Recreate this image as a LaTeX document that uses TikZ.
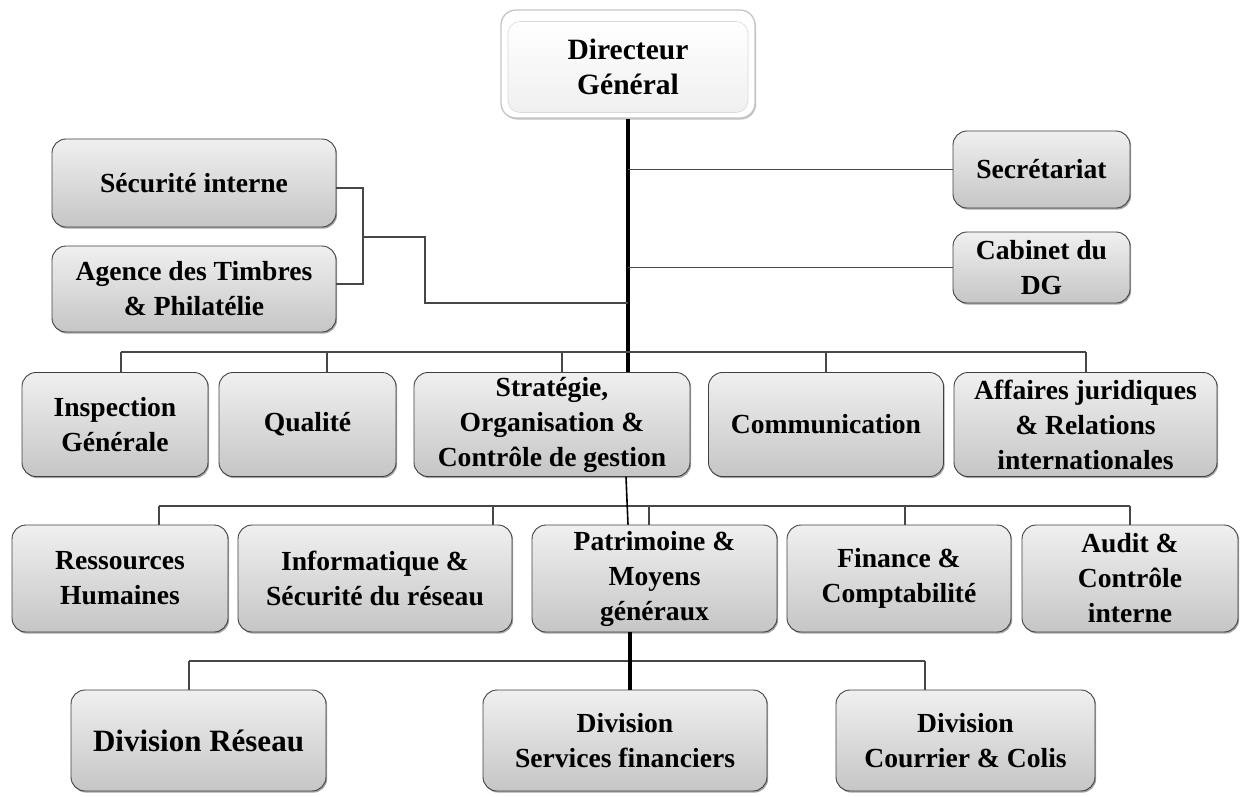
\documentclass[tikz,border=0pt]{standalone}
\usepackage{fontspec}
\setmainfont{Liberation Serif}
\usetikzlibrary{shadows}
\begin{document}
\begin{tikzpicture}[x=1pt,y=-1pt,
  unit/.style={rounded corners=14pt, draw=black!75, line width=0.9pt,
    top color=gray!12, bottom color=gray!45, align=center, inner sep=2pt,
    font=\bfseries\fontsize{27.6}{35}\selectfont,
    drop shadow={shadow xshift=1.2pt, shadow yshift=-1.6pt, opacity=0.35, fill=black}},
  dgframe/.style={rounded corners=15pt, draw=gray!45, line width=1.3pt, fill=white,
    drop shadow={shadow xshift=1pt, shadow yshift=-1.5pt, opacity=0.25, fill=black}},
  dgbox/.style={rounded corners=12pt, draw=gray!30, line width=0.6pt,
    top color=white, bottom color=gray!12, align=center,
    font=\bfseries\fontsize{29.5}{35}\selectfont},
  link/.style={draw=black!72, line width=1.1pt},
  trunk/.style={draw=black, line width=3.2pt},
  slim/.style={draw=black, line width=1.6pt},
]
\useasboundingbox (0,0) rectangle (1245,796);

% Top of the chart
\node[dgframe, minimum width=254pt, minimum height=108pt] (dgf) at (628,64) {};
\node[dgbox, minimum width=240pt, minimum height=91pt] (dg) at (628,67) {Directeur\\Général};

% Staff units beside the trunk
\node[unit, minimum width=284pt, minimum height=88pt] (sec) at (194,183) {Sécurité interne};
\node[unit, minimum width=284pt, minimum height=86pt] (agence) at (194,289) {Agence des Timbres\\\& Philatélie};
\node[unit, minimum width=177pt, minimum height=77pt] (secr) at (1041.5,169.5) {Secrétariat};
\node[unit, minimum width=177pt, minimum height=71pt] (cab) at (1041.5,267.5) {Cabinet du\\DG};

% Second level
\node[unit, minimum width=186pt, minimum height=104pt] (insp) at (115,424.5) {Inspection\\Générale};
\node[unit, minimum width=177pt, minimum height=104pt] (qual) at (307.5,424.5) {Qualité};
\node[unit, minimum width=276pt, minimum height=104pt] (strat) at (552,424.5) {Stratégie,\\Organisation \&\\Contrôle de gestion};
\node[unit, minimum width=235pt, minimum height=104pt] (comm) at (826,424.5) {Communication};
\node[unit, minimum width=263pt, minimum height=104pt] (aff) at (1085.5,424.5) {Affaires juridiques\\\& Relations\\internationales};

% Third level
\node[unit, minimum width=216pt, minimum height=107pt] (rh) at (120,578.5) {Ressources\\Humaines};
\node[unit, minimum width=274pt, minimum height=107pt] (info) at (375,578.5) {Informatique \&\\Sécurité du réseau};
\node[unit, minimum width=245pt, minimum height=107pt] (patr) at (654.5,578.5) {Patrimoine \&\\Moyens\\généraux};
\node[unit, minimum width=224pt, minimum height=107pt] (fin) at (899,578.5) {Finance \&\\Comptabilité};
\node[unit, minimum width=216pt, minimum height=107pt] (audit) at (1130,578.5) {Audit \&\\Contrôle\\interne};

% Operating divisions
\node[unit, minimum width=255pt, minimum height=101pt, font=\bfseries\fontsize{31}{38}\selectfont] (dr) at (198.5,740.5) {Division Réseau};
\node[unit, minimum width=284pt, minimum height=101pt] (sf) at (625,740.5) {Division\\Services financiers};
\node[unit, minimum width=259pt, minimum height=101pt] (cc) at (965.5,740.5) {Division\\Courrier \& Colis};

% Main trunk and staff links
\draw[trunk] (dgf.south) -- (dgf.south |- strat.north);
\draw[link] (dgf.south |- secr.west) -- (secr.west);
\draw[link] (dgf.south |- cab.west) -- (cab.west);

\coordinate (lbtop) at (363,188);
\coordinate (lbbot) at (363,284);
\coordinate (lbmid) at (363,237);
\coordinate (lbturn) at (425,237);
\coordinate (lbjoin) at (425,303);
\draw[link] (sec.east |- lbtop) -- (lbtop) -- (lbbot) -- (agence.east |- lbbot);
\draw[link] (lbmid) -- (lbturn) -- (lbjoin) -- (dgf.south |- lbjoin);

% Second-level bus
\coordinate (d2a) at (121,352);
\coordinate (d2b) at (327,352);
\coordinate (d2c) at (562,352);
\coordinate (d2d) at (826,352);
\coordinate (d2e) at (1086,352);
\draw[link] (d2a) -- (d2e);
\draw[link] (d2a) -- (d2a |- insp.north);
\draw[link] (d2b) -- (d2b |- qual.north);
\draw[link] (d2c) -- (d2c |- strat.north);
\draw[link] (d2d) -- (d2d |- comm.north);
\draw[link] (d2e) -- (d2e |- aff.north);

% Third-level bus
\coordinate (d3a) at (159,506);
\coordinate (d3b) at (493,506);
\coordinate (d3c) at (649,506);
\coordinate (d3d) at (905,506);
\coordinate (d3e) at (1130,506);
\draw[link] (d3a) -- (d3e);
\draw[link] (d3a) -- (d3a |- rh.north);
\draw[link] (d3b) -- (d3b |- info.north);
\draw[link] (d3c) -- (d3c |- patr.north);
\draw[link] (d3d) -- (d3d |- fin.north);
\draw[link] (d3e) -- (d3e |- audit.north);
\draw[slim] ([xshift=74pt]strat.south) -- ([xshift=-26.5pt]patr.north);

% Division bus
\coordinate (d4a) at (189,661);
\coordinate (d4b) at (630,661);
\coordinate (d4c) at (925,661);
\draw[link] (d4a) -- (d4c);
\draw[link] (d4a) -- (d4a |- dr.north);
\draw[link] (d4c) -- (d4c |- cc.north);
\draw[trunk] (d4b |- patr.south) -- (d4b |- sf.north);
\end{tikzpicture}
\end{document}
